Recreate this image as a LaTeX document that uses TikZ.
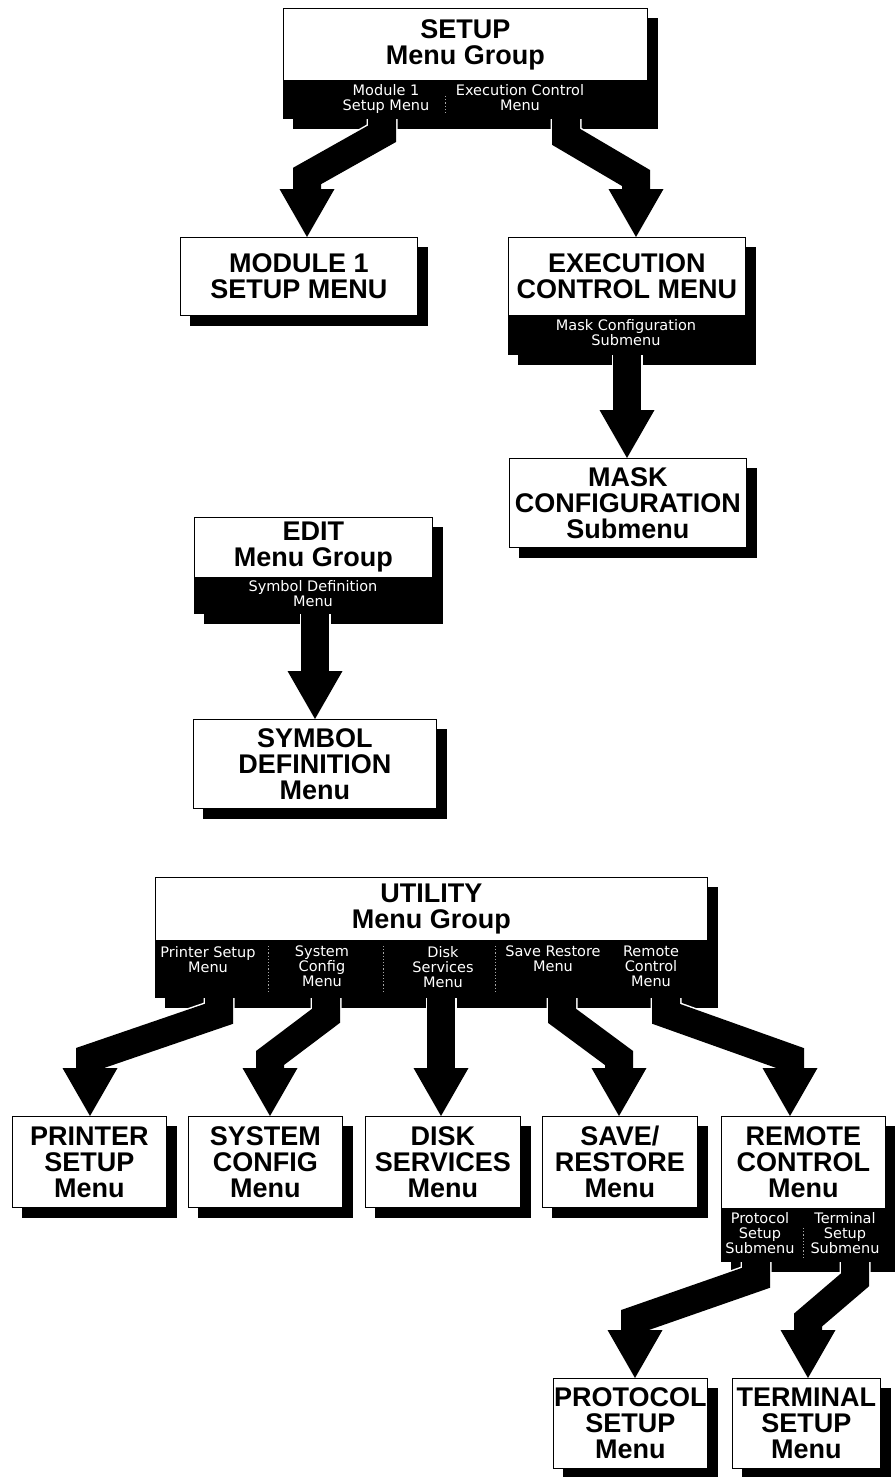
\documentclass[tikz,border=0pt]{standalone}
\usepackage{fontspec}
\setmainfont{Liberation Sans}
\newfontfamily\barfont{DejaVu Sans}
\usetikzlibrary{arrows.meta,calc}
\pgfdeclarelayer{bg}
\pgfsetlayers{bg,main}
\tikzset{
  box/.style={draw=black, line width=0.9pt, fill=white, inner sep=0pt, anchor=north west, align=center, font=\bfseries\fontsize{27}{26}\selectfont},
  bar/.style={draw=black, line width=0.9pt, fill=black, inner sep=0pt, anchor=north west},
  bartext/.style={text=white, inner sep=0pt, anchor=north, align=center, font=\barfont\fontsize{14.5}{15}\selectfont},
  divider/.style={draw=gray!70, line width=0.7pt, dash pattern=on 1.2pt off 2pt},
  shade/.style={fill=black},
  fat/.style={draw=black, line width=28pt, line join=miter, -{Triangle[width=55pt,length=48pt,line width=0pt]}, preaction={draw=white, line width=31pt, -}},
}
\newcommand{\boxshadow}[2]{\fill[shade] ($(#1.north west)+(10,10)$) rectangle ($(#2.south east)+(10,10)$);}
\begin{document}
\begin{tikzpicture}[x=1pt,y=-1pt]
\useasboundingbox (0,0) rectangle (894,1477);
% ---------- SETUP group
\node[box, minimum width=364pt, minimum height=72pt] (setup) at (283,8) {SETUP\\Menu Group};
\node[bar, minimum width=364pt, minimum height=37pt] (setupbar) at (setup.south west) {};
\node[bartext] (setupA) at (386,84) {Module 1\\Setup Menu};
\node[bartext] (setupB) at (520,84) {Execution Control\\Menu};
\draw[divider] (445,96) -- (445,113);
\node[box, minimum width=237pt, minimum height=78pt] (module) at (180,237) {MODULE 1\\SETUP MENU};
\node[box, minimum width=237pt, minimum height=78pt] (exec) at (508,237) {EXECUTION\\CONTROL MENU};
\node[bar, minimum width=237pt, minimum height=38pt] (execbar) at (exec.south west) {};
\node[bartext] (execA) at (626,319) {Mask Configuration\\Submenu};
\node[box, minimum width=237pt, minimum height=89pt] (mask) at (509,458) {MASK\\CONFIGURATION\\Submenu};
% ---------- EDIT group
\node[box, minimum width=238pt, minimum height=60pt] (edit) at (194,517) {EDIT\\Menu Group};
\node[bar, minimum width=238pt, minimum height=35pt] (editbar) at (edit.south west) {};
\node[bartext] (editA) at (313,580) {Symbol Definition\\Menu};
\node[box, minimum width=243pt, minimum height=89pt] (symbol) at (193,719) {SYMBOL\\DEFINITION\\Menu};
% ---------- UTILITY group
\node[box, minimum width=552pt, minimum height=63pt] (utility) at (155,877) {UTILITY\\Menu Group};
\node[bar, minimum width=552pt, minimum height=56pt] (utilbar) at (utility.south west) {};
\node[bartext] (utilA) at (208,946) {Printer Setup\\Menu};
\node[bartext] (utilB) at (322,946) {System\\Config\\Menu};
\node[bartext] (utilC) at (443,946) {Disk\\Services\\Menu};
\node[bartext] (utilD) at (553,946) {Save Restore\\Menu};
\node[bartext] (utilE) at (651,946) {Remote\\Control\\Menu};
\draw[divider] (268,946) -- (268,992);
\draw[divider] (383,946) -- (383,992);
\draw[divider] (495,946) -- (495,992);
\node[box, minimum width=154pt, minimum height=91pt] (printer) at (12,1116) {PRINTER\\SETUP\\Menu};
\node[box, minimum width=154pt, minimum height=91pt] (system) at (188,1116) {SYSTEM\\CONFIG\\Menu};
\node[box, minimum width=155pt, minimum height=91pt] (disk) at (365,1116) {DISK\\SERVICES\\Menu};
\node[box, minimum width=155pt, minimum height=91pt] (save) at (542,1116) {SAVE/\\RESTORE\\Menu};
\node[box, minimum width=164pt, minimum height=92pt] (remote) at (721,1116) {REMOTE\\CONTROL\\Menu};
\node[bar, minimum width=164pt, minimum height=52pt] (remotebar) at (remote.south west) {};
\node[bartext] (remA) at (760,1212) {Protocol\\Setup\\Submenu};
\node[bartext] (remB) at (845,1212) {Terminal\\Setup\\Submenu};
\draw[divider] (803,1228) -- (803,1257);
\node[box, minimum width=154pt, minimum height=90pt] (protocol) at (553,1378) {PROTOCOL\\SETUP\\Menu};
\node[box, minimum width=148pt, minimum height=90pt] (terminal) at (732,1378) {TERMINAL\\SETUP\\Menu};
% ---------- shadows and arrows
\begin{pgfonlayer}{bg}
\boxshadow{setup}{setupbar}
\boxshadow{module}{module}
\boxshadow{exec}{execbar}
\boxshadow{mask}{mask}
\boxshadow{edit}{editbar}
\boxshadow{symbol}{symbol}
\boxshadow{utility}{utilbar}
\boxshadow{printer}{printer}
\boxshadow{system}{system}
\boxshadow{disk}{disk}
\boxshadow{save}{save}
\boxshadow{remote}{remotebar}
\boxshadow{protocol}{protocol}
\boxshadow{terminal}{terminal}
\draw[fat] ($(setupbar.south west)+(99,0)$) -- ++(0,15) -- (307,176) -- ($(module.north west)+(127,0)$);
\draw[fat] ($(setupbar.south west)+(283,0)$) -- ++(0,18) -- (636,178) -- ($(exec.north west)+(128,0)$);
\draw[fat] ($(execbar.south west)+(119,0)$) -- ($(mask.north west)+(118,0)$);
\draw[fat] ($(editbar.south west)+(121,0)$) -- ($(symbol.north west)+(122,0)$);
\draw[fat] ($(utilbar.south west)+(64,0)$) -- ++(0,16) -- (90,1058) -- ($(printer.north west)+(78,0)$);
\draw[fat] ($(utilbar.south west)+(171,0)$) -- ++(0,18) -- (270,1058) -- ($(system.north west)+(82,0)$);
\draw[fat] ($(utilbar.south west)+(286,0)$) -- ($(disk.north west)+(76,0)$);
\draw[fat] ($(utilbar.south west)+(407,0)$) -- ++(0,18) -- (619,1058) -- ($(save.north west)+(77,0)$);
\draw[fat] ($(utilbar.south west)+(511,0)$) -- ++(0,16) -- (790,1058) -- ($(remote.north west)+(69,0)$);
\draw[fat] ($(remotebar.south west)+(35,0)$) -- ++(0,16) -- (635,1320) -- ($(protocol.north west)+(82,0)$);
\draw[fat] ($(remotebar.south west)+(134,0)$) -- ++(0,18) -- (808,1320) -- ($(terminal.north west)+(76,0)$);
\end{pgfonlayer}
\end{tikzpicture}
\end{document}
